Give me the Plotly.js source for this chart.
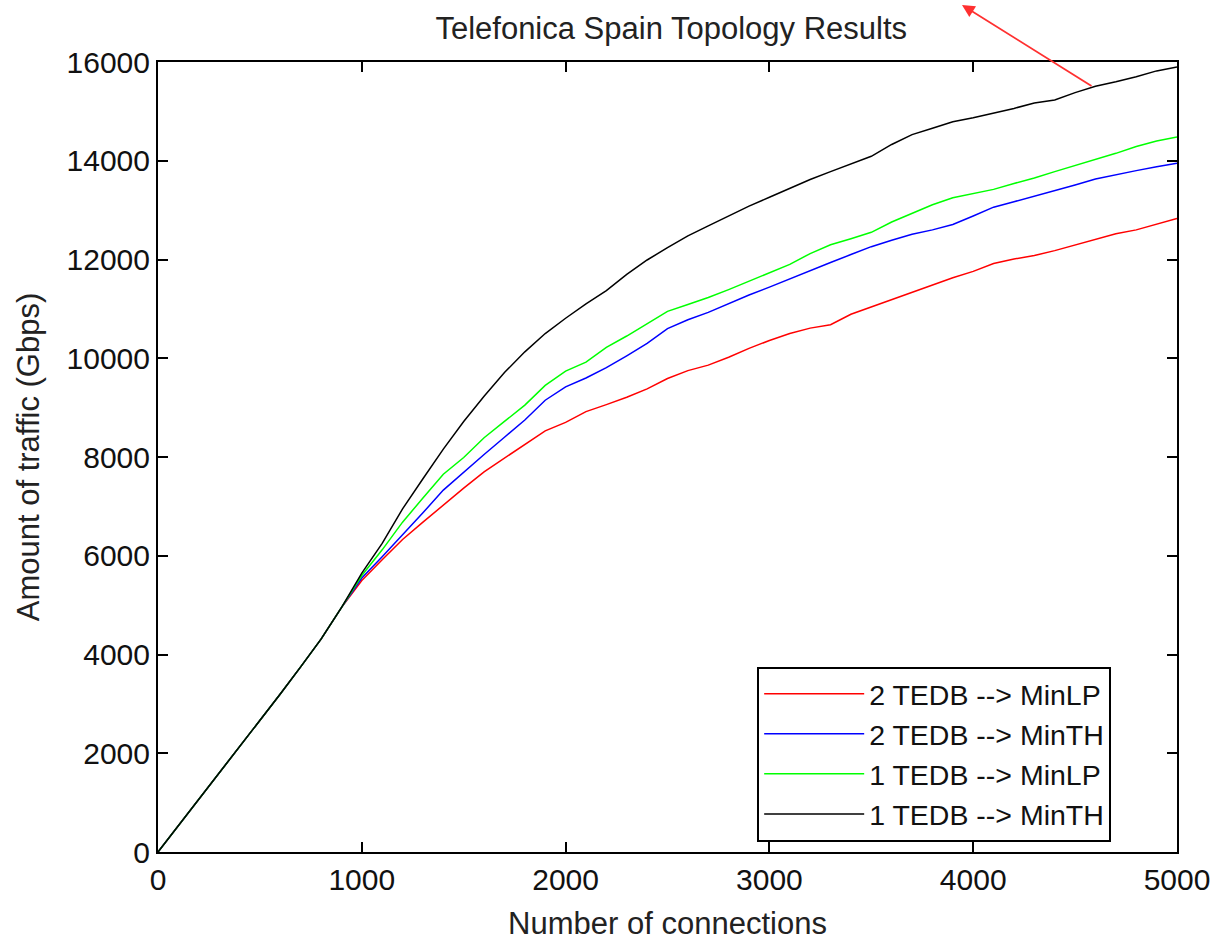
<!DOCTYPE html>
<html>
<head>
<meta charset="utf-8">
<script src="https://cdn.plot.ly/plotly-3.0.1.min.js"></script>
<style>html,body{margin:0;padding:0;background:#fff;}#chart{width:1216px;height:941px;}</style>
</head>
<body>
<div id="chart"></div>
<script>
// Number of connections (x)
var connections = [0,100,200,300,400,500,600,700,800,900,1000,1100,1200,1300,1400,1500,1600,1700,1800,1900,2000,2100,2200,2300,2400,2500,2600,2700,2800,2900,3000,3100,3200,3300,3400,3500,3600,3700,3800,3900,4000,4100,4200,4300,4400,4500,4600,4700,4800,4900,5000];

// Amount of traffic (Gbps)
var tedb2MinLP = [0,530,1070,1600,2130,2660,3200,3750,4310,4950,5500,5920,6330,6680,7030,7370,7700,7980,8260,8530,8700,8920,9060,9210,9380,9590,9750,9860,10020,10200,10360,10500,10610,10680,10890,11040,11180,11330,11480,11630,11760,11920,12010,12080,12180,12290,12410,12520,12600,12710,12830];
var tedb2MinTH = [0,530,1070,1600,2130,2660,3200,3750,4310,4950,5550,5980,6420,6870,7330,7700,8050,8400,8750,9150,9420,9600,9810,10050,10300,10600,10780,10930,11110,11280,11440,11610,11770,11940,12100,12260,12390,12510,12600,12710,12880,13060,13170,13280,13390,13510,13630,13720,13800,13880,13950];
var tedb1MinLP = [0,530,1070,1600,2130,2660,3200,3750,4310,4950,5600,6120,6680,7170,7650,7990,8390,8720,9050,9450,9740,9920,10220,10450,10700,10950,11090,11230,11390,11560,11720,11900,12120,12300,12420,12550,12760,12940,13110,13250,13330,13420,13540,13650,13780,13900,14030,14150,14290,14400,14480];
var tedb1MinTH = [0,530,1070,1600,2130,2660,3200,3750,4310,4950,5650,6250,6950,7560,8160,8720,9230,9710,10130,10500,10810,11100,11370,11700,11990,12240,12480,12680,12880,13080,13260,13440,13620,13780,13940,14090,14330,14530,14660,14790,14870,14960,15060,15170,15230,15380,15510,15600,15700,15820,15900];

var seriesNames = ['2 TEDB --> MinLP','2 TEDB --> MinTH','1 TEDB --> MinLP','1 TEDB --> MinTH'];
var xTicks = [0,1000,2000,3000,4000,5000];
var yTicks = [0,2000,4000,6000,8000,10000,12000,14000,16000];

var seriesData = [tedb2MinLP, tedb2MinTH, tedb1MinLP, tedb1MinTH];
var colors = ['#ff0000','#0000ff','#00ff00','#000000'];
var font = 'Liberation Sans, Arial, Helvetica, sans-serif';

var traces = seriesData.map(function(vals, i){
  return {x: connections, y: vals, type:'scatter', mode:'lines', name: seriesNames[i],
          line:{color: colors[i], width: 1.5}};
});

var axisCommon = {
  showline:true, linecolor:'#000', linewidth:2, mirror:'ticks',
  ticks:'inside', ticklen:10, tickwidth:2, tickcolor:'#000',
  showgrid:false, zeroline:false,
  tickfont:{family:font, size:30, color:'#111'}
};

var layout = {
  width:1216, height:941,
  margin:{l:158, r:39, t:62, b:89},
  paper_bgcolor:'#fff', plot_bgcolor:'#fff',
  showlegend:true,
  title:{text:'Telefonica Spain Topology Results', font:{family:font, size:31, color:'#222'}, x:0.552, xanchor:'center', y:0.97, yanchor:'middle'},
  xaxis: Object.assign({}, axisCommon, {range:[0,5000], tickvals:xTicks, ticktext:xTicks.map(String),
    title:{text:'Number of connections', font:{family:font, size:31, color:'#222'}, standoff:18}}),
  yaxis: Object.assign({}, axisCommon, {range:[0,16000], tickvals:yTicks, ticktext:yTicks.map(String),
    title:{text:'Amount of traffic (Gbps)', font:{family:font, size:31, color:'#222'}, standoff:18}}),
  legend:{x:0.588, y:0.013, xanchor:'left', yanchor:'bottom', bgcolor:'#fff', bordercolor:'#000', borderwidth:2,
    font:{family:font, size:28.5, color:'#111'}, itemwidth:100, tracegroupgap:0},
  annotations:[{
    xref:'paper', yref:'paper', x:(962-158)/1019, y:(852-5)/790,
    axref:'pixel', ayref:'pixel', ax:131, ay:82,
    text:'', showarrow:true, arrowcolor:'#ff3030', arrowwidth:1.8, arrowhead:2, arrowsize:1.4
  }]
};

Plotly.newPlot('chart', traces, layout, {displayModeBar:false, staticPlot:true});
</script>
</body>
</html>
